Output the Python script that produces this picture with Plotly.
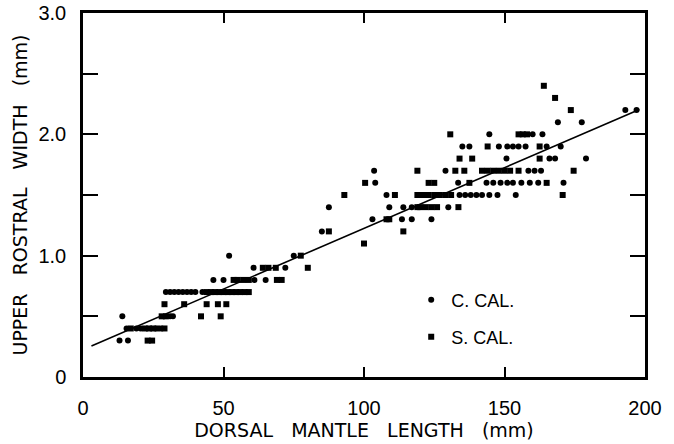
import plotly.graph_objects as go

# ---- data ----
c_cal_x = [13, 16, 15.5, 19, 20.5, 28, 14, 31, 32,
           29.5, 31, 32.5, 34, 35.5, 37, 38.5, 40, 42.5,
           46.4, 50, 61, 65,
           60.7, 72,
           52, 75,
           85,
           103, 113.5, 117, 124,
           87.5, 109, 114, 117, 130,
           108, 134, 136, 138, 140, 142, 144.6, 147.5, 154,
           104, 133.5, 143.6, 146, 148.6, 151, 153, 156, 159, 162, 171,
           103.6, 129, 158.5, 160.7, 163,
           150.7, 166, 168, 179,
           135, 137.5, 148, 151, 153, 155, 157.5, 165, 170,
           144.6, 160, 163.5,
           169, 177.5,
           193, 197]
c_cal_y = [0.3, 0.3, 0.4, 0.4, 0.4, 0.4, 0.5, 0.5, 0.5,
           0.7, 0.7, 0.7, 0.7, 0.7, 0.7, 0.7, 0.7, 0.7,
           0.8, 0.8, 0.8, 0.8,
           0.9, 0.9,
           1.0, 1.0,
           1.2,
           1.3, 1.3, 1.3, 1.3,
           1.4, 1.4, 1.4, 1.4, 1.4,
           1.5, 1.5, 1.5, 1.5, 1.5, 1.5, 1.5, 1.5, 1.5,
           1.6, 1.6, 1.6, 1.6, 1.6, 1.6, 1.6, 1.6, 1.6, 1.6, 1.6,
           1.7, 1.7, 1.7, 1.7, 1.7,
           1.8, 1.8, 1.8, 1.8,
           1.9, 1.9, 1.9, 1.9, 1.9, 1.9, 1.9, 1.9, 1.9,
           2.0, 2.0, 2.0,
           2.1, 2.1,
           2.2, 2.2]

s_cal_x = [23, 24.6, 17, 22, 23.5, 25, 26.5, 29, 28, 29.5, 42, 49,
           29, 36, 44, 48, 51,
           44, 45.5, 47, 48.5, 50, 51.5, 53, 54.5, 56, 57.5, 59,
           53.6, 55, 57, 59, 69, 70.7,
           64, 66, 68.6, 80,
           77.5,
           100,
           87.5, 114,
           108, 109,
           119, 120, 122, 124, 126, 133.6,
           93, 111, 119, 121, 123, 125, 127, 129, 131, 170.7,
           100.4, 123, 125, 137.5, 165,
           119, 132.5, 135.7, 142, 144, 146, 148, 150, 152, 155, 174.6,
           134, 138.5, 162.5,
           144, 162.5,
           130.7, 155, 156.5, 158,
           173.6, 168, 164]
s_cal_y = [0.3, 0.3, 0.4, 0.4, 0.4, 0.4, 0.4, 0.4, 0.5, 0.5, 0.5, 0.5,
           0.6, 0.6, 0.6, 0.6, 0.6,
           0.7, 0.7, 0.7, 0.7, 0.7, 0.7, 0.7, 0.7, 0.7, 0.7, 0.7,
           0.8, 0.8, 0.8, 0.8, 0.8, 0.8,
           0.9, 0.9, 0.9, 0.9,
           1.0,
           1.1,
           1.2, 1.2,
           1.3, 1.3,
           1.4, 1.4, 1.4, 1.4, 1.4, 1.4,
           1.5, 1.5, 1.5, 1.5, 1.5, 1.5, 1.5, 1.5, 1.5, 1.5,
           1.6, 1.6, 1.6, 1.6, 1.6,
           1.7, 1.7, 1.7, 1.7, 1.7, 1.7, 1.7, 1.7, 1.7, 1.7, 1.7,
           1.8, 1.8, 1.8,
           1.9, 1.9,
           2.0, 2.0, 2.0, 2.0,
           2.2, 2.3, 2.4]

fit_intercept = 0.225
fit_slope = 0.01
fit_x = [3, 198]
fit_y = [fit_intercept + fit_slope * v for v in fit_x]

x_tickvals = [0, 50, 100, 150, 200]
x_ticktext = ["0", "50", "100", "150", "200"]
y_tickvals = [0, 0.5, 1.0, 1.5, 2.0, 2.5, 3.0]
y_ticktext = ["0", "", "1.0", "", "2.0", "", "3.0"]

FONT = "Liberation Sans"
TITLE_FONT = "DejaVu Sans"
SP = "&nbsp;&nbsp;&nbsp;"

fig = go.Figure()
fig.add_trace(go.Scatter(x=fit_x, y=fit_y, mode="lines",
                         line=dict(color="black", width=1.6),
                         showlegend=False, hoverinfo="skip"))
fig.add_trace(go.Scatter(x=c_cal_x, y=c_cal_y, mode="markers", name="C. CAL.",
                         marker=dict(symbol="circle", size=6, color="black"),
                         legend="legend"))
fig.add_trace(go.Scatter(x=s_cal_x, y=s_cal_y, mode="markers", name="S. CAL.",
                         marker=dict(symbol="square", size=6, color="black"),
                         legend="legend2"))

axis_common = dict(showline=True, linecolor="black", linewidth=2.5, mirror="allticks",
                   ticks="inside", tickcolor="black", tickwidth=2,
                   showgrid=False, zeroline=False, automargin=False,
                   ticklabeloverflow="allow",
                   tickfont=dict(family=FONT, size=20, color="black"))

fig.update_xaxes(range=[0, 200], tickvals=x_tickvals, ticktext=x_ticktext, ticklen=10,
                 ticklabelstandoff=11,
                 title=dict(text=SP.join(["DORSAL", "MANTLE", "LENGTH", "(mm)"]),
                            font=dict(family=TITLE_FONT, size=19, color="black"),
                            standoff=4),
                 **axis_common)
fig.update_yaxes(range=[0, 3.0], tickvals=y_tickvals, ticktext=y_ticktext, ticklen=15,
                 ticklabelstandoff=10,
                 title=dict(text=SP.join(["UPPER", "ROSTRAL", "WIDTH", "(mm)"]),
                            font=dict(family=TITLE_FONT, size=19, color="black"),
                            standoff=6),
                 **axis_common)

leg_common = dict(font=dict(family=FONT, size=18, color="black"),
                  bgcolor="rgba(0,0,0,0)", xanchor="left", yanchor="middle",
                  itemwidth=30)
fig.update_layout(
    width=674, height=444,
    margin=dict(l=83, r=29, t=13, b=67, autoexpand=False),
    plot_bgcolor="white", paper_bgcolor="white",
    legend=dict(x=0.584, y=(377 - 300) / 364, **leg_common),
    legend2=dict(x=0.584, y=(377 - 337) / 364, **leg_common),
)

# remove the browser's default 8px body margin so the figure fills the window
fig.write_html("out.html", config={"displayModeBar": False},
               post_script="document.body.style.margin='0';document.body.style.overflow='hidden';")
